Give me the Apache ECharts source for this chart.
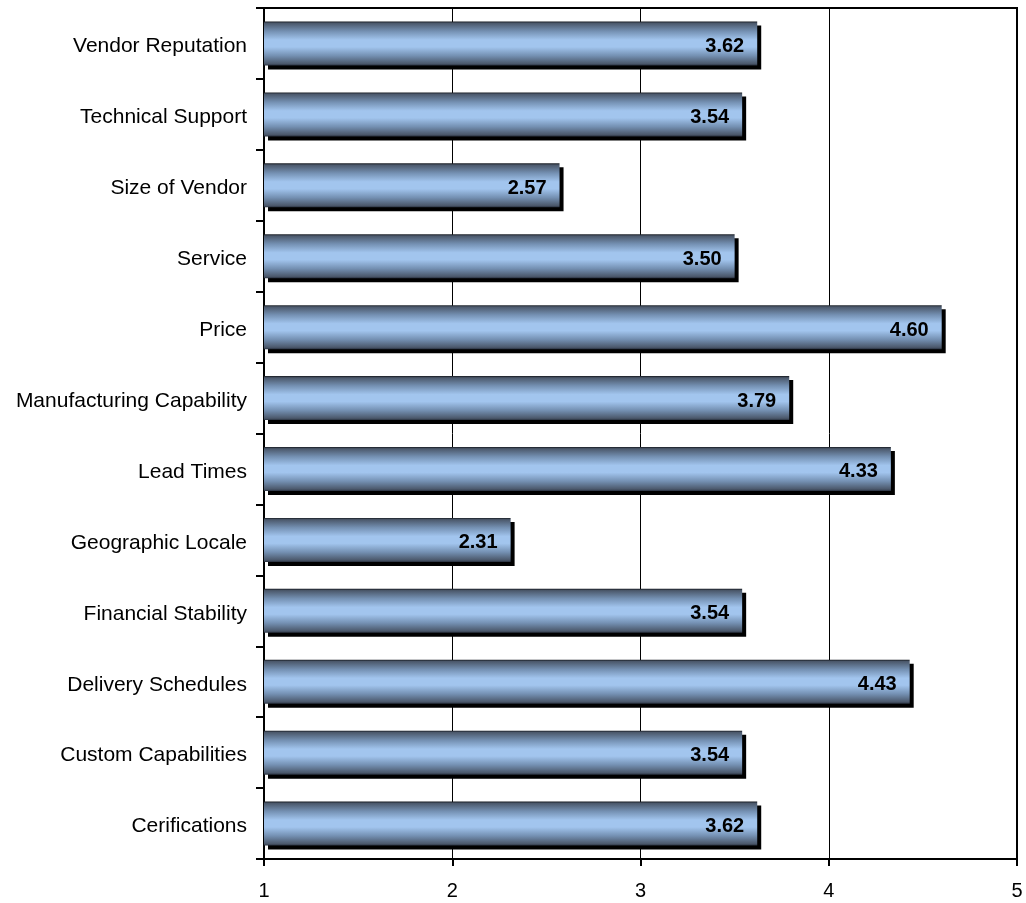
<!DOCTYPE html>
<html>
<head>
<meta charset="utf-8">
<script src="https://cdn.jsdelivr.net/npm/echarts@6/dist/echarts.min.js"></script>
<style>
  html, body { margin: 0; padding: 0; background: #fff; }
  #chart { width: 1026px; height: 903px; }
</style>
</head>
<body>
<div id="chart"></div>
<script>
// Selection criteria, listed bottom to top as drawn on the category axis
const categories = [
  'Cerifications', 'Custom Capabilities', 'Delivery Schedules', 'Financial Stability',
  'Geographic Locale', 'Lead Times', 'Manufacturing Capability', 'Price',
  'Service', 'Size of Vendor', 'Technical Support', 'Vendor Reputation'
];
const scores = [3.62, 3.54, 4.43, 3.54, 2.31, 4.33, 3.79, 4.60, 3.50, 2.57, 3.54, 3.62];
const scaleTicks = [1, 2, 3, 4, 5];

const chart = echarts.init(document.getElementById('chart'), null, { renderer: 'canvas' });

// Cylinder-like shading: dark rims, light steel-blue centre
const barFill = new echarts.graphic.LinearGradient(0, 0, 0, 1, [
  { offset: 0.00, color: '#15191f' },
  { offset: 0.04, color: '#4b586b' },
  { offset: 0.22, color: '#7490b2' },
  { offset: 0.42, color: '#a2c5ee' },
  { offset: 0.58, color: '#a2c5ee' },
  { offset: 0.78, color: '#7490b2' },
  { offset: 0.96, color: '#4b586b' },
  { offset: 1.00, color: '#2a3240' }
]);

const font = 'Liberation Sans, Arial, sans-serif';

chart.setOption({
  animation: false,
  backgroundColor: '#ffffff',
  textStyle: { fontFamily: font },
  grid: { left: 264, right: 9, top: 8, bottom: 44, containLabel: false,
          show: true, borderColor: '#000', borderWidth: 2 },
  xAxis: {
    type: 'value',
    min: scaleTicks[0],
    max: scaleTicks[scaleTicks.length - 1],
    interval: 1,
    startValue: scaleTicks[0],
    axisLine: { show: true, lineStyle: { color: '#000', width: 2 } },
    axisTick: { show: true, length: 7, lineStyle: { color: '#000', width: 2 } },
    axisLabel: { color: '#000', fontSize: 20, margin: 22, fontFamily: font },
    splitLine: { show: true, lineStyle: { color: '#000', width: 1 } }
  },
  yAxis: {
    type: 'category',
    data: categories,
    axisLine: { show: true, lineStyle: { color: '#000', width: 2 } },
    axisTick: { show: true, length: 8, lineStyle: { color: '#000', width: 2 } },
    axisLabel: {
      color: '#000', fontSize: 21, margin: 17, fontFamily: font,
      formatter: v => '{c|' + v + '}',
      rich: { c: { color: '#000', fontSize: 21, fontFamily: font, padding: [6, 0, 0, 0] } }
    }
  },
  series: [{
    type: 'bar',
    data: scores,
    barWidth: 44,
    itemStyle: {
      color: barFill,
      borderWidth: 0,
      shadowColor: '#000',
      shadowBlur: 0,
      shadowOffsetX: 4,
      shadowOffsetY: 4
    },
    label: {
      show: true,
      position: 'insideRight',
      distance: 13,
      offset: [0, 3],
      color: '#000',
      fontSize: 20,
      fontWeight: 'bold',
      fontFamily: font,
      formatter: p => p.value.toFixed(2)
    }
  }]
});
</script>
</body>
</html>
